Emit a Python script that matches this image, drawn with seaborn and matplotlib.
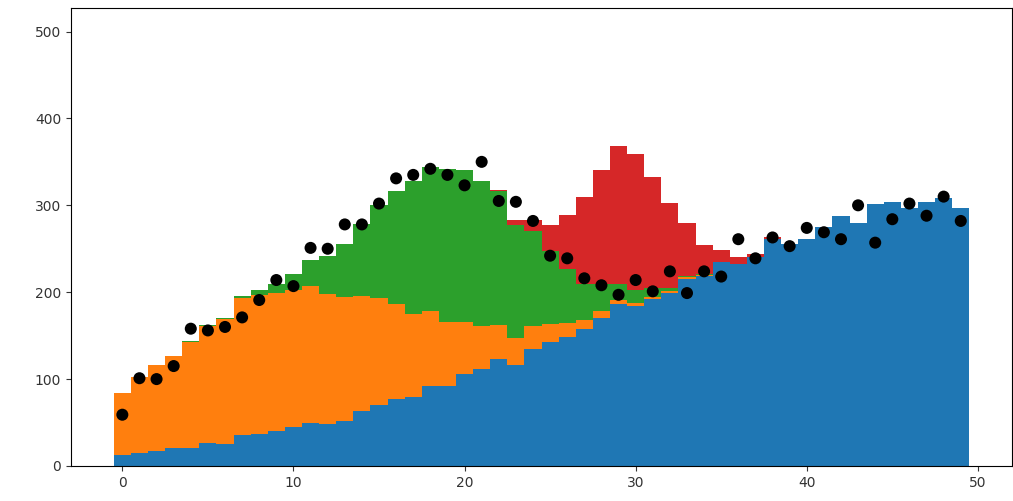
import numpy as np
import pandas as pd
import matplotlib
matplotlib.use("Agg")
import matplotlib.pyplot as plt
import seaborn as sns

# bin centres 0..49
bins = list(range(50))

# stacked components (height of each layer per bin)
blue = [13, 15, 17, 21, 21, 27, 25, 36, 37, 40,
        45, 50, 48, 52, 63, 70, 77, 79, 92, 92,
        106, 112, 123, 116, 135, 143, 149, 158, 170, 186,
        184, 192, 199, 215, 219, 235, 233, 240, 261, 256,
        261, 275, 288, 280, 301, 304, 297, 304, 308, 297]
orange = [71, 87, 99, 106, 122, 134, 144, 157, 160, 159,
          157, 157, 150, 142, 133, 123, 109, 96, 86, 74,
          60, 49, 39, 31, 26, 20, 15, 10, 8, 5,
          3, 2, 2, 2, 1, 0, 0, 0, 0, 0,
          0, 0, 0, 0, 0, 0, 0, 0, 0, 0]
green = [0, 0, 0, 0, 1, 1, 1, 3, 5, 10,
         19, 30, 44, 62, 82, 107, 130, 153, 166, 176,
         175, 167, 154, 130, 109, 84, 63, 42, 32, 18,
         15, 11, 4, 2, 1, 0, 0, 0, 0, 0,
         0, 0, 0, 0, 0, 0, 0, 0, 0, 0]
red = [0, 0, 0, 0, 0, 0, 0, 0, 0, 0,
       0, 0, 0, 0, 0, 0, 0, 0, 0, 0,
       0, 0, 2, 6, 13, 30, 62, 100, 131, 159,
       157, 128, 98, 61, 33, 13, 7, 4, 2, 0,
       0, 0, 0, 0, 0, 0, 0, 0, 0, 0]

# observed counts (black dots)
observed = [59, 101, 100, 115, 158, 156, 160, 171, 191, 214,
            207, 251, 250, 278, 278, 302, 331, 335, 342, 335,
            323, 350, 305, 304, 282, 242, 239, 216, 208, 197,
            214, 201, 224, 199, 224, 218, 261, 239, 263, 253,
            274, 269, 261, 300, 257, 284, 302, 288, 310, 282]

layers = {"blue": blue, "orange": orange, "green": green, "red": red}
colors = {"blue": "#1f77b4", "orange": "#ff7f0e", "green": "#2ca02c", "red": "#d62728"}

df = pd.concat([pd.DataFrame({"x": bins, "w": v, "comp": k}) for k, v in layers.items()],
               ignore_index=True)

fig = plt.figure(figsize=(10.13, 5.01), dpi=100)
ax = fig.add_axes([0.0701, 0.0699, 0.929, 0.914])

sns.histplot(data=df, x="x", weights="w", hue="comp",
             hue_order=["red", "green", "orange", "blue"], palette=colors,
             discrete=True, multiple="stack", element="step", fill=True,
             alpha=1, linewidth=0, legend=False, ax=ax)

sns.scatterplot(x=bins, y=observed, color="black", s=75, edgecolor="none", zorder=5, ax=ax)

ax.set_xlim(-3, 52)
ax.set_ylim(0, 527)
ax.set_xticks([0, 10, 20, 30, 40, 50])
ax.set_yticks([0, 100, 200, 300, 400, 500])
ax.set_xlabel("")
ax.set_ylabel("")
ax.tick_params(colors="#333333", labelsize=10)

fig.savefig("out.png", dpi=100)
